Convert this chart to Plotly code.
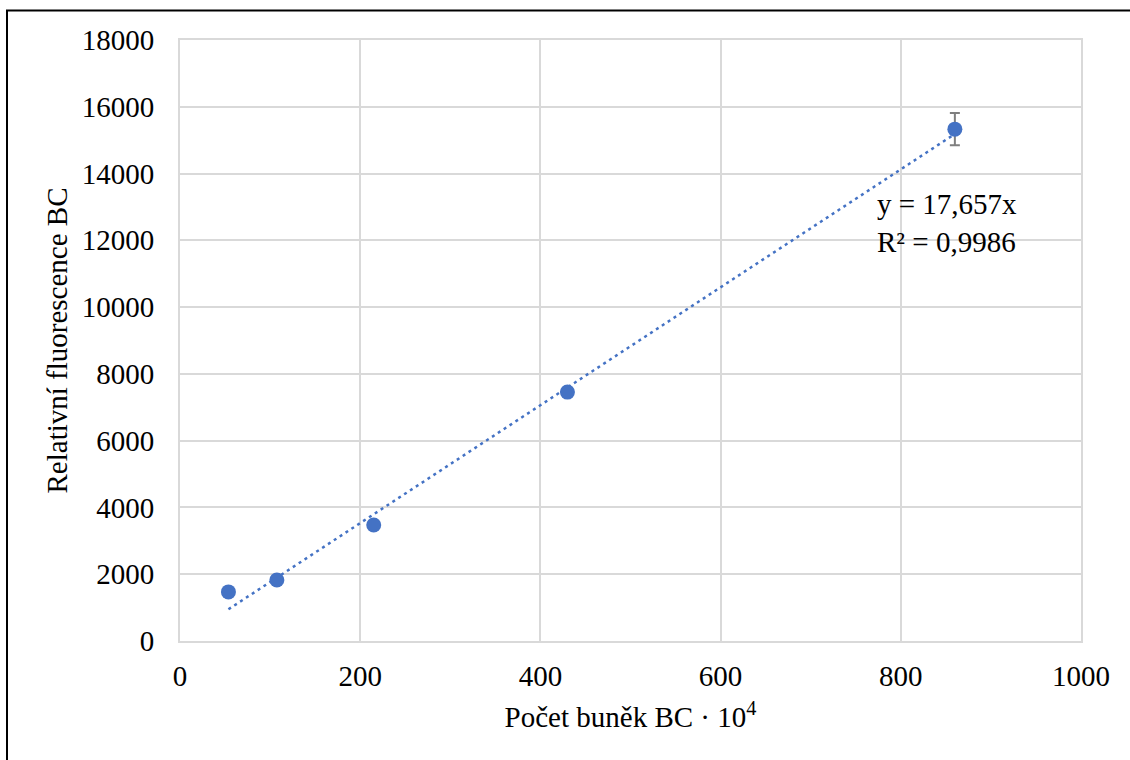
import plotly.graph_objects as go

# Data
cells = [53.75, 107.5, 215, 430, 860]            # Počet buněk BC · 10^4
fluorescence = [1470, 1825, 3475, 7455, 15330]   # Relativní fluorescence BC
err = [0, 0, 0, 0, 480]
slope = 17.657
r2_text = "0,9986"

x_ticks = [0, 200, 400, 600, 800, 1000]
y_ticks = [0, 2000, 4000, 6000, 8000, 10000, 12000, 14000, 16000, 18000]

BLUE = "#4472C4"
GRID = "#D9D9D9"
FONT = "Liberation Serif"
FS = 29

fig = go.Figure()

trend_x = [cells[0], cells[-1]]
trend_y = [slope * v for v in trend_x]
fig.add_trace(go.Scatter(
    x=trend_x, y=trend_y, mode="lines",
    line=dict(color=BLUE, width=2.5, dash="3px,4px"),
    showlegend=False, hoverinfo="skip"))

fig.add_trace(go.Scatter(
    x=cells, y=fluorescence, mode="markers",
    marker=dict(color=BLUE, size=15),
    error_y=dict(type="data", array=err, visible=True, color="#7F7F7F",
                 thickness=2, width=5),
    showlegend=False))

fig.add_annotation(
    x=771, y=12520, xref="x", yref="y", xanchor="left", yanchor="middle",
    text="y = 17,657x<br>R² = " + r2_text, showarrow=False, align="left",
    font=dict(family=FONT, size=FS, color="black"))

# Outer frame
fig.add_shape(type="rect", xref="paper", yref="paper",
              x0=(7 - 180) / 901, x1=(1140 - 180) / 901,
              y0=(641 - 780) / 601, y1=(641 - 10.5) / 601,
              line=dict(color="black", width=2), layer="above")

tick_font = dict(family=FONT, size=FS, color="black")

fig.update_layout(
    width=1130, height=760,
    margin=dict(l=180, r=49, t=40, b=119),
    paper_bgcolor="white", plot_bgcolor="white",
    font=dict(family=FONT, size=FS, color="black"),
    xaxis=dict(range=[0, 1000], tickvals=x_ticks, tickformat="d",
               tickfont=tick_font, showgrid=True,
               gridcolor=GRID, gridwidth=2, zeroline=False,
               showline=True, linecolor=GRID, linewidth=2, mirror=True,
               ticks="", ticklabelstandoff=8,
               title=dict(text="Počet buněk BC · 10<sup>4</sup>", standoff=16,
                          font=dict(family=FONT, size=FS, color="black"))),
    yaxis=dict(range=[0, 18000], tickvals=y_ticks, tickformat="d",
               tickfont=tick_font, showgrid=True,
               gridcolor=GRID, gridwidth=2, zeroline=False,
               showline=True, linecolor=GRID, linewidth=2, mirror=True,
               ticks="", ticklabelstandoff=18,
               title=dict(text="Relativní fluorescence BC", standoff=6,
                          font=dict(family=FONT, size=FS, color="black"))),
)

fig.write_html("out.html")
